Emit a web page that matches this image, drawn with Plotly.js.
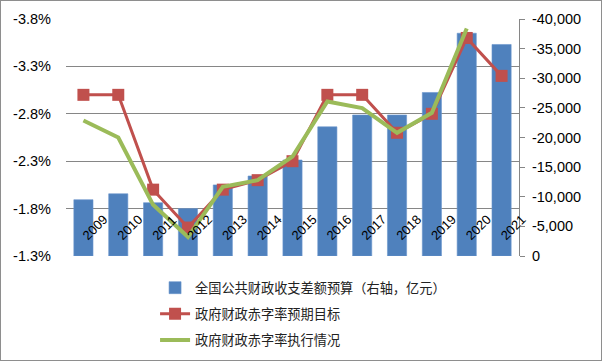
<!DOCTYPE html>
<html>
<head>
<meta charset="utf-8">
<script src="https://cdn.plot.ly/plotly-3.0.1.min.js"></script>
<style>
html,body{margin:0;padding:0;background:#fff;}
#wrap{position:relative;width:602px;height:361px;box-sizing:border-box;border:1px solid #8e8e8e;overflow:hidden;}
#chart{width:600px;height:359px;}
</style>
</head>
<body>
<div id="wrap"><div id="chart"></div></div>
<script>
// ---- data ----
const years = ['2009','2010','2011','2012','2013','2014','2015','2016','2017','2018','2019','2020','2021'];
const budgetGap = [-9500,-10500,-9000,-8000,-12000,-13500,-16200,-21800,-23800,-23800,-27600,-37600,-35700];
const targetRate = [-3.0,-3.0,-2.0,-1.6,-2.0,-2.1,-2.3,-3.0,-3.0,-2.6,-2.8,-3.6,-3.2];
const actualRate = [-2.73,-2.55,-1.84,-1.5,-2.03,-2.1,-2.35,-2.93,-2.86,-2.6,-2.81,-3.7,null];
const leftTickVals = [-3.8,-3.3,-2.8,-2.3,-1.8,-1.3];
const leftTickText = ['-3.8%','-3.3%','-2.8%','-2.3%','-1.8%','-1.3%'];
const rightTickVals = [-40000,-35000,-30000,-25000,-20000,-15000,-10000,-5000,0];
const rightTickText = ['-40,000','-35,000','-30,000','-25,000','-20,000','-15,000','-10,000','-5,000','0'];
const seriesNames = ['全国公共财政收支差额预算（右轴，亿元）','政府财政赤字率预期目标','政府财政赤字率执行情况'];

const tickFont = {family:'"Liberation Sans", Arial, sans-serif', size:14.5, color:'#000'};

const traces = [
  {type:'bar', x:years, y:budgetGap, name:seriesNames[0], xaxis:'x', yaxis:'y',
   marker:{color:'#4F81BD', line:{color:'#6A95CC', width:0.6}}, legendgroup:'a', hoverinfo:'skip'},
  {type:'scatter', mode:'lines+markers', x:years, y:targetRate, name:seriesNames[1], xaxis:'x', yaxis:'y2',
   line:{color:'#C0504D', width:3}, marker:{symbol:'square', size:12, color:'#C0504D'}, legendgroup:'b', hoverinfo:'skip'},
  {type:'scatter', mode:'lines', x:years, y:actualRate, name:seriesNames[2], xaxis:'x', yaxis:'y2',
   line:{color:'#9BBB59', width:4}, legendgroup:'c', hoverinfo:'skip', connectgaps:false}
];

const layout = {
  width:600, height:359,
  margin:{l:65, r:82, t:18, b:104, pad:0, autoexpand:false},
  paper_bgcolor:'#fff', plot_bgcolor:'rgba(0,0,0,0)',
  bargap:0.45,
  showlegend:true,
  legend:{orientation:'v', x:0.1966, xanchor:'left', y:-0.07, yanchor:'top',
          traceorder:'grouped', tracegroupgap:6,
          font:{family:'"Noto Sans CJK SC", sans-serif', size:13.2, color:'#222'}},
  xaxis:{type:'category', side:'top', anchor:'free', position:0.045, automargin:false,
         range:[-0.5, years.length-0.5],
         showline:false, showgrid:false, zeroline:false, ticks:'',
         tickangle:-45, tickfont:{family:tickFont.family, size:13, color:'#000'}, fixedrange:true},
  yaxis:{side:'right', range:[0,-40000], tickmode:'array', tickvals:rightTickVals, ticktext:rightTickText,
         showgrid:false, zeroline:false, showline:true, linecolor:'#868686', linewidth:1, automargin:false,
         ticks:'outside', ticklen:5, tickcolor:'#868686', tickfont:tickFont, ticklabelstandoff:4},
  yaxis2:{side:'left', overlaying:'y', range:[-1.3,-3.8], tickmode:'array', tickvals:leftTickVals, ticktext:leftTickText,
          showgrid:true, gridcolor:'#868686', gridwidth:1, zeroline:false, showline:false, automargin:false,
          ticks:'', tickfont:tickFont, ticklabelstandoff:14}
};

Plotly.newPlot('chart', traces, layout, {displayModeBar:false, staticPlot:true});
</script>
</body>
</html>
